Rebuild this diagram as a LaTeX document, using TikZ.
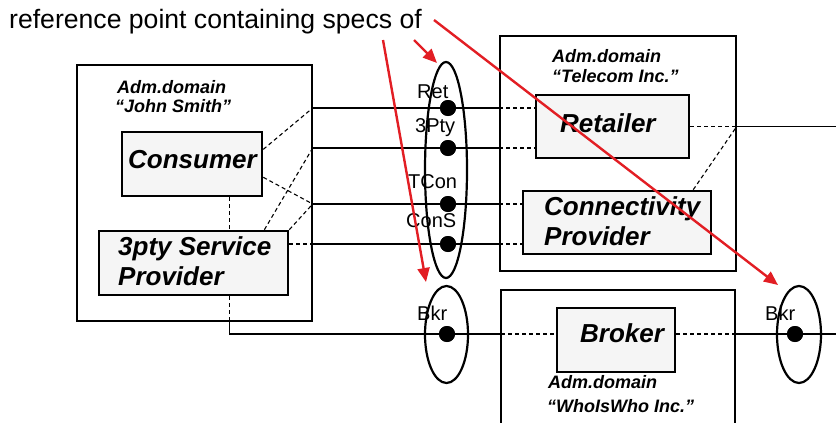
\documentclass[tikz,border=0pt]{standalone}
\usepackage{fontspec}
\setmainfont{Liberation Sans}
\usetikzlibrary{shapes.geometric,arrows.meta,calc}
\definecolor{redarrow}{RGB}{226,30,36}
\definecolor{boxfill}{RGB}{245,245,245}
\begin{document}
\begin{tikzpicture}[x=1pt,y=-1pt,
  domainbox/.style={draw,line width=1.4pt,inner sep=0pt},
  agent/.style={draw,line width=2.6pt,fill=boxfill,inner sep=0pt},
  conn/.style={line width=1.2pt},
  dconn/.style={line width=1.1pt,dash pattern=on 4pt off 3pt},
  refpt/.style={draw,ellipse,line width=2.2pt,inner sep=0pt},
  dotnode/.style={circle,fill=black,inner sep=0pt,minimum size=16pt},
  lbl/.style={inner sep=0pt,anchor=base west},
  titlefont/.style={font=\fontsize{26.6}{30}\selectfont},
  agentfont/.style={font=\fontsize{26}{30}\selectfont\bfseries\itshape},
  domfont/.style={font=\fontsize{18}{21}\selectfont\bfseries\itshape},
  rpfont/.style={font=\fontsize{20}{24}\selectfont},
  redarr/.style={draw=redarrow,line width=2.4pt,-{Triangle[length=14pt,width=12pt]}},
]
\useasboundingbox (0,0) rectangle (836,423);

% domain boxes
\node[domainbox,minimum width=235pt,minimum height=256pt] (js) at (194.5,193) {};
\node[domainbox,minimum width=236pt,minimum height=235pt] (tel) at (618,153.5) {};
\draw[line width=1.4pt] (501,423) -- (501,290) -- (735,290) -- (735,423);
\coordinate (wwl) at (501,334);
\coordinate (wwr) at (735,334);

% agent boxes
\node[agent,minimum width=140pt,minimum height=64pt] (cons) at (192,164) {};
\node[agent,minimum width=189pt,minimum height=64pt] (sp) at (193.5,263) {};
\node[agent,minimum width=153pt,minimum height=63pt] (retl) at (612.5,126.5) {};
\node[agent,minimum width=188pt,minimum height=63pt] (cp) at (617,222.5) {};
\node[agent,minimum width=118pt,minimum height=64pt] (brk) at (616,340) {};

% reference point dots
\node[dotnode] (dret) at (448,108) {};
\node[dotnode] (d3p) at (448,148) {};
\node[dotnode] (dtc) at (448,204) {};
\node[dotnode] (dcs) at (448,244) {};
\node[dotnode] (dbk1) at (447,334) {};
\node[dotnode] (dbk2) at (795,334) {};

% solid connectors between domains
\foreach \d in {dret,d3p,dtc,dcs}{
  \draw[conn] (js.east |- \d) -- (tel.west |- \d);
}
% dashed from telecom edge to retailer / connectivity provider
\draw[dconn] (tel.west |- dret) -- (retl.west |- dret);
\draw[dconn] (tel.west |- d3p) -- (retl.west |- d3p);
\draw[dconn] (tel.west |- dtc) -- (cp.west |- dtc);
\draw[dconn] (tel.west |- dcs) -- (cp.west |- dcs);

% dashed inside John Smith domain
\coordinate (c1) at ($(cons.north east)!0.28!(cons.south east)$);
\coordinate (c2) at ($(cons.north east)!0.7!(cons.south east)$);
\coordinate (s1) at ($(sp.north west)!0.87!(sp.north east)$);
\draw[dconn] (c1) -- (js.east |- dret);
\draw[dconn] (s1) -- (js.east |- d3p);
\draw[dconn] (c2) -- (js.east |- dtc);
\draw[dconn] (sp.north east) -- (js.east |- dtc);
\draw[dconn] (sp.east |- dcs) -- (js.east |- dcs);

% vertical consumer - service provider, and down to broker line
\coordinate (cb) at ($(cons.south west)!0.764!(cons.south east)$);
\draw[dconn] (cb) -- (cb |- sp.north);
\coordinate (sb) at (cb |- sp.south);
\coordinate (sd) at (cb |- js.south);
\draw[dconn] (sb) -- (sd);
\draw[conn] (sd) -- (sd |- dbk1) -- (dbk1) -- (wwl);
\draw[dconn] (wwl) -- (brk.west |- wwl);
\draw[dconn] (brk.east |- wwr) -- (wwr);
\coordinate (rend) at (836,334);
\draw[conn] (wwr) -- (dbk2) -- (rend);

% retailer / connectivity to the right
\coordinate (tr) at (tel.east |- retl.east);
\coordinate (c3) at ($(cp.north west)!0.9!(cp.north east)$);
\coordinate (rend2) at (836,126.5);
\draw[dconn] (retl.east) -- (tr);
\draw[dconn] (c3) -- (tr);
\draw[conn] (tr) -- (rend2);

% reference point ellipses
\node[refpt,minimum width=42pt,minimum height=216pt] (rp) at (446,170) {};
\node[refpt,minimum width=43pt,minimum height=97pt] (rpb1) at (446.5,334.5) {};
\node[refpt,minimum width=44pt,minimum height=97pt] (rpb2) at (799,334.5) {};
\foreach \d in {dret,d3p,dtc,dcs,dbk1,dbk2}{
  \node[dotnode] at (\d) {};
}

% texts
\node[lbl,titlefont] (title) at (9,28) {reference point containing specs of};
\node[lbl,domfont] (jsa) at (117,93) {Adm.domain};
\node[lbl,domfont] (jsb) at (115,112) {“John Smith”};
\node[lbl,domfont] (tela) at (552,62) {Adm.domain};
\node[lbl,domfont] (telb) at (552,82) {“Telecom Inc.”};
\node[lbl,domfont] (wwa) at (548,388) {Adm.domain};
\node[lbl,domfont] (wwb) at (547,412) {“WhoIsWho Inc.”};

\node[lbl,agentfont] (tcons) at (128,168) {Consumer};
\node[lbl,agentfont] (tsp1) at (118,255) {3pty Service};
\node[lbl,agentfont] (tsp2) at (118,285) {Provider};
\node[lbl,agentfont] (tretl) at (560,132) {Retailer};
\node[lbl,agentfont] (tcp1) at (544,215) {Connectivity};
\node[lbl,agentfont] (tcp2) at (544,245) {Provider};
\node[lbl,agentfont] (tbrk) at (580,342) {Broker};

\node[lbl,rpfont] (tret) at (417,98) {Ret};
\node[lbl,rpfont] (t3p) at (415,132) {3Pty};
\node[lbl,rpfont] (ttc) at (408,188) {TCon};
\node[lbl,rpfont] (tcs) at (406,227) {ConS};
\node[lbl,rpfont] (tbk1) at (417,320) {Bkr};
\node[lbl,rpfont] (tbk2) at (765,320) {Bkr};

% red pointer arrows
\coordinate (r1s) at (383,40);
\coordinate (r1e) at (426,282);
\coordinate (r2s) at (414,40);
\coordinate (r2e) at (437,63);
\coordinate (r3s) at (434,20);
\coordinate (r3e) at (778,285);
\draw[redarr] (r1s) -- (r1e);
\draw[redarr] (r2s) -- (r2e);
\draw[redarr] (r3s) -- (r3e);
\end{tikzpicture}
\end{document}
